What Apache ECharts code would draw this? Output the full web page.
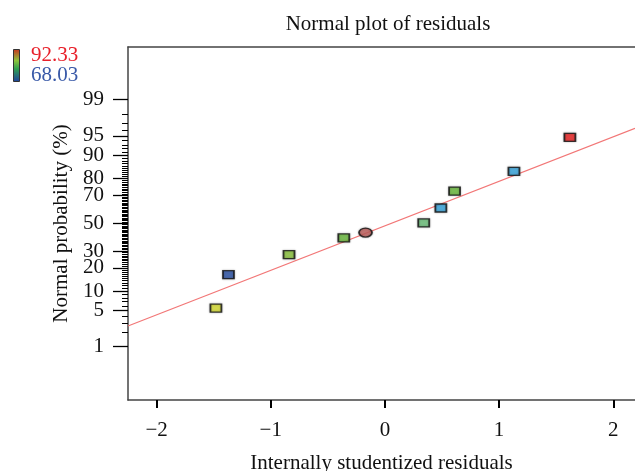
<!DOCTYPE html>
<html>
<head>
<meta charset="utf-8">
<script src="https://cdn.jsdelivr.net/npm/echarts@6/dist/echarts.min.js"></script>
<style>html,body{margin:0;padding:0;background:#fff}#c{width:635px;height:471px}</style>
</head>
<body>
<div id="c"></div>
<script>
// ---- data ----
const residuals = [-1.48, -1.37, -0.84, -0.36, -0.17, 0.34, 0.49, 0.61, 1.13, 1.62];
const normalProbability = [5.5, 16.6, 27.7, 39.1, 43.0, 50.2, 61.3, 72.7, 83.6, 94.7];
const pointColors = ['#d9e032', '#2b52a6', '#8cc63c', '#6cbd3f', '#c0605e', '#6cc27a', '#38a8e0', '#6cbd3c', '#38a8e0', '#ee2222'];
const pointShapes = ['rect', 'rect', 'rect', 'rect', 'circle', 'rect', 'rect', 'rect', 'rect', 'rect'];
const fitLineResiduals = [-2.25, 2.19];
const fitLineProbability = [2.64, 96.3];
const probabilityTicks = [1, 5, 10, 20, 30, 50, 70, 80, 90, 95, 99];
const probabilityMinorTicks = Array.from({length: 99}, (_, i) => i + 1);
const xTicks = [-2, -1, 0, 1, 2];
const legendHigh = '92.33';
const legendLow = '68.03';

// inverse normal CDF (Acklam)
function probit(p) {
  const a = [-3.969683028665376e+01, 2.209460984245205e+02, -2.759285104469687e+02, 1.383577518672690e+02, -3.066479806614716e+01, 2.506628277459239e+00];
  const b = [-5.447609879822406e+01, 1.615858368580409e+02, -1.556989798598866e+02, 6.680131188771972e+01, -1.328068155288572e+01];
  const c = [-7.784894002430293e-03, -3.223964580411365e-01, -2.400758277161838e+00, -2.549732539343734e+00, 4.374664141464968e+00, 2.938163982698783e+00];
  const d = [7.784695709041462e-03, 3.224671290700398e-01, 2.445134137142996e+00, 3.754408661907416e+00];
  const pl = 0.02425, ph = 1 - pl;
  let q, r;
  if (p < pl) {
    q = Math.sqrt(-2 * Math.log(p));
    return (((((c[0]*q+c[1])*q+c[2])*q+c[3])*q+c[4])*q+c[5]) / ((((d[0]*q+d[1])*q+d[2])*q+d[3])*q+1);
  } else if (p <= ph) {
    q = p - 0.5; r = q * q;
    return (((((a[0]*r+a[1])*r+a[2])*r+a[3])*r+a[4])*r+a[5])*q / (((((b[0]*r+b[1])*r+b[2])*r+b[3])*r+b[4])*r+1);
  } else {
    q = Math.sqrt(-2 * Math.log(1 - p));
    return -(((((c[0]*q+c[1])*q+c[2])*q+c[3])*q+c[4])*q+c[5]) / ((((d[0]*q+d[1])*q+d[2])*q+d[3])*q+1);
  }
}
const z = pct => probit(pct / 100);

const FONT = '"Liberation Serif", "DejaVu Serif", serif';
const FS = 21;
const majorZ = probabilityTicks.map(z);
const minorZ = probabilityMinorTicks.map(z);
const xMin = -2.25, xMax = 2.19, yMin = -3.33, yMax = 3.32;

const chart = echarts.init(document.getElementById('c'), null, {renderer: 'canvas'});
chart.setOption({
  animation: false,
  backgroundColor: '#fff',
  title: {
    text: 'Normal plot of residuals',
    left: 383, top: 9, textAlign: 'center',
    textStyle: {fontFamily: FONT, fontSize: FS, fontWeight: 'normal', color: '#111'}
  },
  grid: {left: 128, top: 47, right: 0, bottom: 71, containLabel: false, outerBoundsMode: 'none'},
  xAxis: [{
    type: 'value', min: xMin, max: xMax,
    name: 'Internally studentized residuals', nameLocation: 'middle', nameGap: 53,
    nameTextStyle: {fontFamily: FONT, fontSize: FS, color: '#111'},
    axisLine: {show: true, onZero: false, lineStyle: {color: '#444', width: 1.5}},
    axisTick: {show: true, customValues: xTicks, length: 8, inside: false, lineStyle: {color: '#000', width: 2}},
    axisLabel: {customValues: xTicks, margin: 20, fontFamily: FONT, fontSize: FS, color: '#111',
      formatter: v => String(Math.round(v)).replace('-', '\u2212')},
    splitLine: {show: false}
  }, {
    type: 'value', min: xMin, max: xMax, position: 'top',
    axisLine: {show: true, onZero: false, lineStyle: {color: '#444', width: 1.5}},
    axisTick: {show: false}, axisLabel: {show: false}, splitLine: {show: false}
  }],
  yAxis: [{
    type: 'value', min: yMin, max: yMax, position: 'left',
    name: 'Normal probability (%)', nameLocation: 'middle', nameGap: 50, nameRotate: 90,
    nameTextStyle: {fontFamily: FONT, fontSize: FS, color: '#111'},
    axisLine: {show: true, onZero: false, lineStyle: {color: '#444', width: 1.5}},
    axisTick: {show: true, customValues: majorZ, length: 15, lineStyle: {color: '#000', width: 1.3}},
    axisLabel: {customValues: majorZ, margin: 24, fontFamily: FONT, fontSize: FS, color: '#111',
      formatter: v => {
        let best = 0, bd = Infinity;
        majorZ.forEach((m, i) => { const dd = Math.abs(m - v); if (dd < bd) { bd = dd; best = i; } });
        return String(probabilityTicks[best]);
      }},
    splitLine: {show: false}
  }, {
    type: 'value', min: yMin, max: yMax, position: 'left',
    axisLine: {show: false, onZero: false},
    axisTick: {show: true, customValues: minorZ, length: 6, lineStyle: {color: '#000', width: 1}},
    axisLabel: {show: false}, splitLine: {show: false}
  }],
  graphic: [
    {type: 'rect', left: 13, top: 49, shape: {width: 6, height: 32},
      style: {fill: new echarts.graphic.LinearGradient(0, 0, 0, 1, [
        {offset: 0, color: '#c8321e'}, {offset: 0.35, color: '#8cc43c'},
        {offset: 0.6, color: '#2fa050'}, {offset: 1, color: '#1f3fa0'}]),
        stroke: '#333', lineWidth: 1}},
    {type: 'text', left: 31, top: 45, style: {text: legendHigh, fontFamily: FONT, fontSize: FS, fill: '#e8202a'}},
    {type: 'text', left: 31, top: 65, style: {text: legendLow, fontFamily: FONT, fontSize: FS, fill: '#3a5aa8'}}
  ],
  series: [{
    type: 'line',
    data: fitLineResiduals.map((x, i) => [x, z(fitLineProbability[i])]),
    showSymbol: false, symbol: 'none',
    lineStyle: {color: '#f27777', width: 1.2},
    silent: true, z: 1
  }, {
    type: 'scatter',
    data: residuals.map((x, i) => ({
      value: [x, z(normalProbability[i])],
      symbol: pointShapes[i],
      symbolSize: pointShapes[i] === 'circle' ? [13, 9] : [11, 8],
      itemStyle: {color: pointColors[i]}
    })),
    itemStyle: {borderColor: '#111', borderWidth: 1.5, shadowBlur: 2, shadowColor: 'rgba(0,0,0,0.35)'},
    z: 3
  }]
});
</script>
</body>
</html>
